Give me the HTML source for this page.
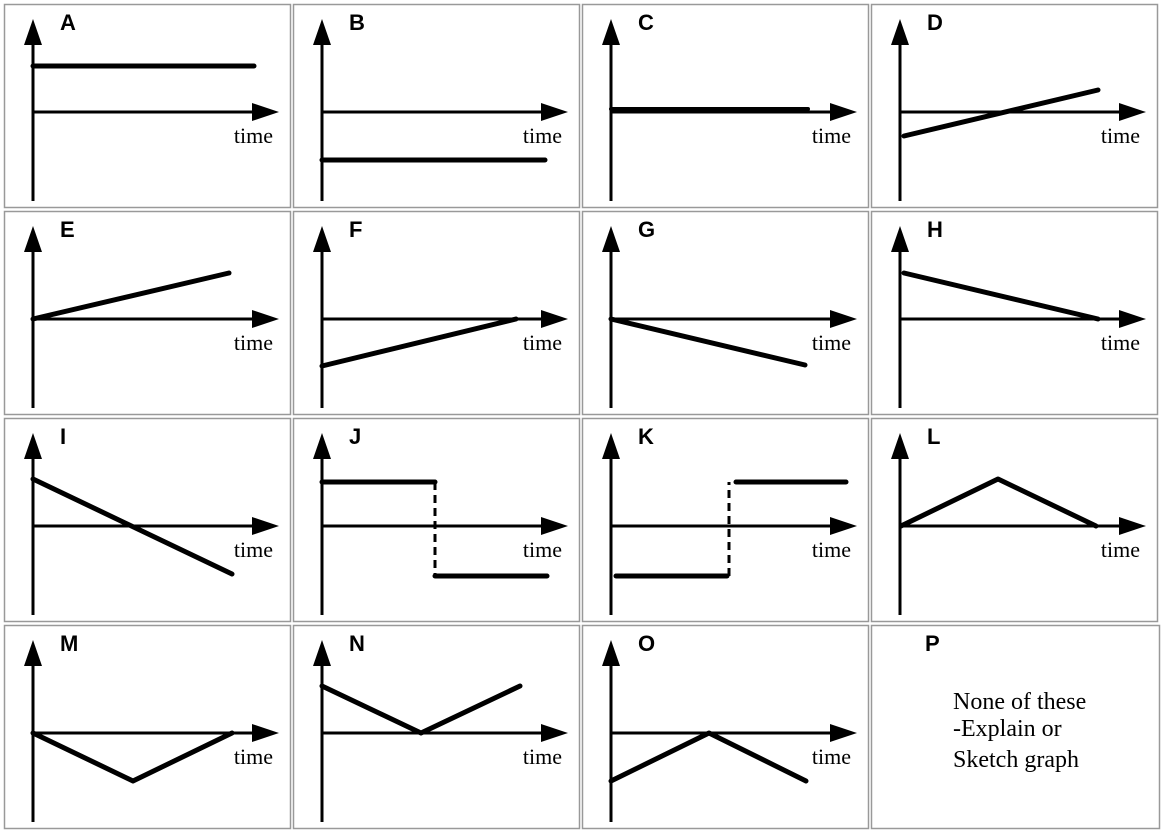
<!DOCTYPE html>
<html><head><style>html,body{margin:0;padding:0;background:#fff}svg{display:block}</style></head>
<body>
<svg width="1165" height="834" viewBox="0 0 1165 834" xmlns="http://www.w3.org/2000/svg">
<defs>
<g id="ax">
  <rect x="0.5" y="0.5" width="286" height="203" fill="none" stroke="#999" stroke-width="1.5"/>
  <line x1="29" y1="36" x2="29" y2="197" stroke="#000" stroke-width="3"/>
  <polygon points="29,15 20,41 38,41" fill="#000"/>
  <line x1="29" y1="108" x2="252" y2="108" stroke="#000" stroke-width="3"/>
  <polygon points="275,108 248,99 248,117" fill="#000"/>
  <text x="269" y="139" text-anchor="end" font-family="Liberation Serif, serif" font-weight="normal" font-size="22">time</text>
</g>
</defs>
<g font-family="Liberation Sans, sans-serif" font-weight="bold" font-size="22" fill="#000">
<g transform="translate(4,4)"><use href="#ax"/><text x="56" y="26">A</text>
<polyline points="29,62 250,62" fill="none" stroke="#000" stroke-width="5" stroke-linecap="round"/></g>
<g transform="translate(293,4)"><use href="#ax"/><text x="56" y="26">B</text>
<polyline points="29,156 252,156" fill="none" stroke="#000" stroke-width="5" stroke-linecap="round"/></g>
<g transform="translate(582,4)"><use href="#ax"/><text x="56" y="26">C</text>
<polyline points="29,105 226,105" fill="none" stroke="#000" stroke-width="4" stroke-linecap="round"/></g>
<g transform="translate(871,4)"><use href="#ax"/><text x="56" y="26">D</text>
<polyline points="33,132 227,86" fill="none" stroke="#000" stroke-width="5" stroke-linecap="round"/></g>

<g transform="translate(4,211)"><use href="#ax"/><text x="56" y="26">E</text>
<polyline points="29,108 225,62" fill="none" stroke="#000" stroke-width="5" stroke-linecap="round"/></g>
<g transform="translate(293,211)"><use href="#ax"/><text x="56" y="26">F</text>
<polyline points="29,155 223,108" fill="none" stroke="#000" stroke-width="5" stroke-linecap="round"/></g>
<g transform="translate(582,211)"><use href="#ax"/><text x="56" y="26">G</text>
<polyline points="29,108 223,154" fill="none" stroke="#000" stroke-width="5" stroke-linecap="round"/></g>
<g transform="translate(871,211)"><use href="#ax"/><text x="56" y="26">H</text>
<polyline points="33,62 227,108" fill="none" stroke="#000" stroke-width="5" stroke-linecap="round"/></g>

<g transform="translate(4,418)"><use href="#ax"/><text x="56" y="26">I</text>
<polyline points="29,61 228,156" fill="none" stroke="#000" stroke-width="5" stroke-linecap="round"/></g>
<g transform="translate(293,418)"><use href="#ax"/><text x="56" y="26">J</text>
<polyline points="29,64 142,64" fill="none" stroke="#000" stroke-width="5" stroke-linecap="round"/>
<line x1="142" y1="64" x2="142" y2="158" stroke="#000" stroke-width="3" stroke-dasharray="8,5"/>
<polyline points="142,158 254,158" fill="none" stroke="#000" stroke-width="5" stroke-linecap="round"/></g>
<g transform="translate(582,418)"><use href="#ax"/><text x="56" y="26">K</text>
<polyline points="34,158 145,158" fill="none" stroke="#000" stroke-width="5" stroke-linecap="round"/>
<line x1="147" y1="158" x2="147" y2="64" stroke="#000" stroke-width="3" stroke-dasharray="8,5"/>
<polyline points="154,64 264,64" fill="none" stroke="#000" stroke-width="5" stroke-linecap="round"/></g>
<g transform="translate(871,418)"><use href="#ax"/><text x="56" y="26">L</text>
<polyline points="30,108 127,61 225,108" fill="none" stroke="#000" stroke-width="5" stroke-linecap="round" stroke-linejoin="round"/></g>

<g transform="translate(4,625)"><use href="#ax"/><text x="56" y="26">M</text>
<polyline points="29,108 129,156 228,108" fill="none" stroke="#000" stroke-width="5" stroke-linecap="round" stroke-linejoin="round"/></g>
<g transform="translate(293,625)"><use href="#ax"/><text x="56" y="26">N</text>
<polyline points="29,61 128,108 227,61" fill="none" stroke="#000" stroke-width="5" stroke-linecap="round" stroke-linejoin="round"/></g>
<g transform="translate(582,625)"><use href="#ax"/><text x="56" y="26">O</text>
<polyline points="29,156 127,108 224,156" fill="none" stroke="#000" stroke-width="5" stroke-linecap="round" stroke-linejoin="round"/></g>
<g transform="translate(871,625)">
<rect x="0.5" y="0.5" width="288" height="203" fill="none" stroke="#999" stroke-width="1.5"/>
<text x="54" y="26">P</text>
<g font-family="Liberation Serif, serif" font-weight="normal" font-size="24">
<text x="82" y="84">None of these</text>
<text x="82" y="111">-Explain or</text>
<text x="82" y="142">Sketch graph</text>
</g></g>
</g>
</svg>
</body></html>
